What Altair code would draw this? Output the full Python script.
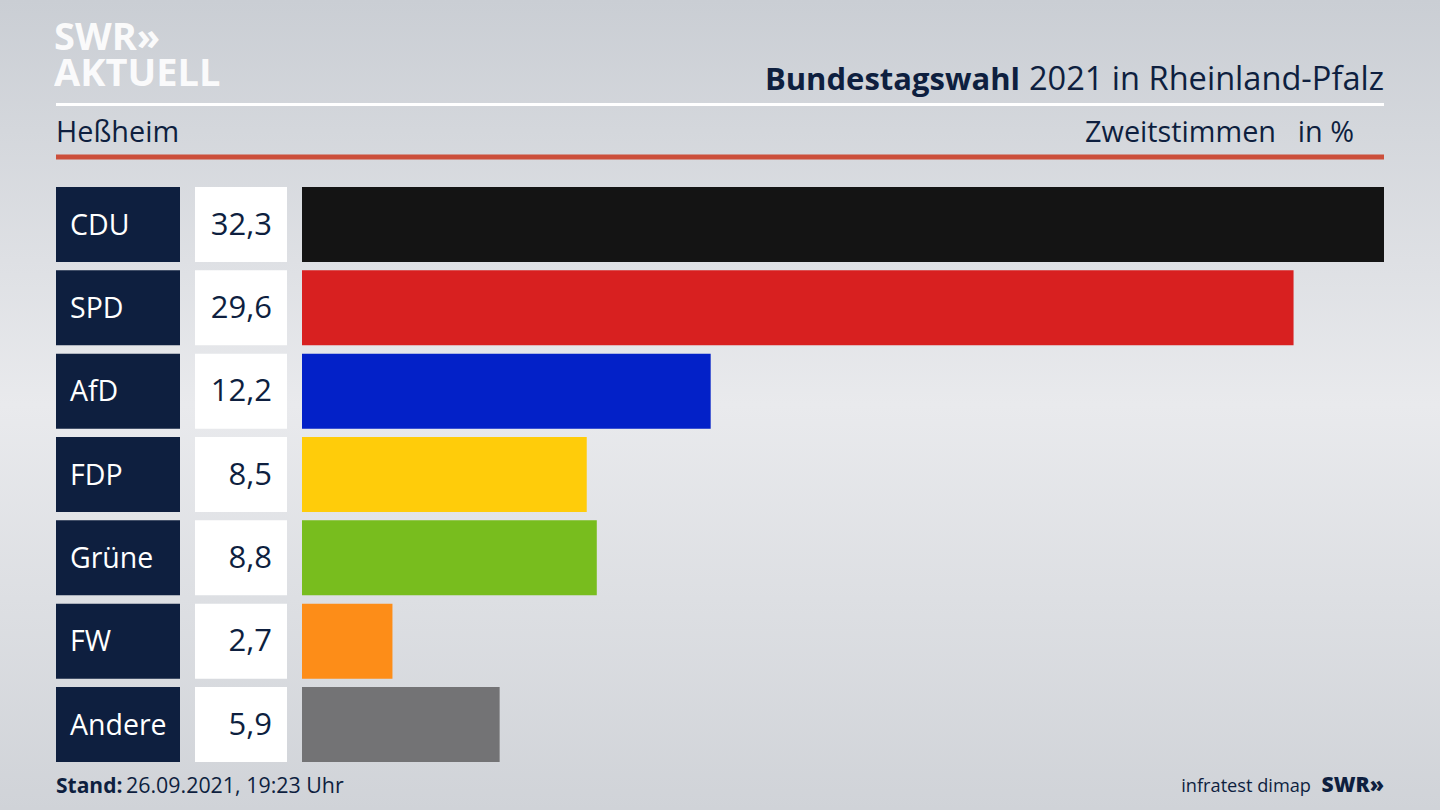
import altair as alt
import pandas as pd

parties = ["CDU", "SPD", "AfD", "FDP", "Grüne", "FW", "Andere"]
values = [32.3, 29.6, 12.2, 8.5, 8.8, 2.7, 5.9]
colors = ["#141414", "#d82020", "#0321c8", "#ffcc0a", "#78bd1e", "#fd8d18", "#737375"]

df = pd.DataFrame({
    "party": parties,
    "value": values,
    "color": colors,
    "label": [f"{v:.1f}".replace(".", ",") for v in values],
})

FONT = "Open Sans"
NAVY = "#0e1f3f"

yscale = alt.Scale(domain=parties, range=[187, 762], paddingInner=0.1, paddingOuter=0)
yenc = alt.Y("party:N", scale=yscale, axis=None)

base = alt.Chart(df)

bg = alt.Chart(pd.DataFrame({"a": [0]})).mark_rect(
    fill=alt.Gradient(
        gradient="linear", x1=0, y1=0, x2=0, y2=1,
        stops=[
            alt.GradientStop(offset=0, color="#caced4"),
            alt.GradientStop(offset=0.5, color="#e9eaed"),
            alt.GradientStop(offset=1, color="#d0d3d8"),
        ],
    )
).encode(x=alt.value(0), x2=alt.value(1440), y=alt.value(0), y2=alt.value(810))

name_box = base.mark_rect(color=NAVY).encode(
    x=alt.value(56), x2=alt.value(180), y=yenc
)
value_box = base.mark_rect(color="#ffffff").encode(
    x=alt.value(195), x2=alt.value(287), y=yenc
)
bars = base.mark_bar().encode(
    x=alt.X("value:Q", scale=alt.Scale(domain=[0, max(values)], range=[302, 1384]), axis=None),
    y=yenc,
    color=alt.Color("color:N", scale=None, legend=None),
)
name_text = base.mark_text(
    align="left", baseline="middle", font=FONT, fontSize=28.5, color="#ffffff", dy=1
).encode(x=alt.value(70), y=alt.Y("party:N", scale=yscale, axis=None, bandPosition=0.5), text="party:N")
value_text = base.mark_text(
    align="right", baseline="middle", font=FONT, fontSize=31, color=NAVY, dy=1
).encode(x=alt.value(272), y=alt.Y("party:N", scale=yscale, axis=None, bandPosition=0.5), text="label:N")

one = pd.DataFrame({"a": [0]})

def txt(s, x, y, size, align="left", weight="normal", color=NAVY, baseline="alphabetic", opacity=1, lineHeight=None):
    kw = {}
    if lineHeight is not None:
        kw["lineHeight"] = lineHeight
    return alt.Chart(one).mark_text(
        text=s, align=align, baseline=baseline, font=FONT, fontSize=size,
        fontWeight=weight, color=color, opacity=opacity, **kw,
    ).encode(x=alt.value(x), y=alt.value(y))

def hline(x1, x2, y, color, width):
    return alt.Chart(one).mark_rule(color=color, strokeWidth=width).encode(
        x=alt.value(x1), x2=alt.value(x2), y=alt.value(y)
    )

layers = [
    bg,
    txt(["SWR»", "AKTUELL"], 54, 50, 38, weight="bold", color="#ffffff", opacity=0.9, lineHeight=36),
    txt("Bundestagswahl", 1020, 90, 31, align="right", weight="bold"),
    txt("2021 in Rheinland-Pfalz", 1384, 90, 32.6, align="right"),
    hline(56, 1384, 104.5, "#ffffff", 3),
    txt("Heßheim", 56, 142, 28.8),
    txt("Zweitstimmen", 1276, 142, 28.8, align="right"),
    txt("in %", 1354, 142, 28.8, align="right"),
    hline(56, 1384, 157, "#cc4f3b", 5),
    name_box, value_box, bars, name_text, value_text,
    txt("Stand:", 56, 793, 21, weight="bold"),
    txt("26.09.2021, 19:23 Uhr", 126, 793, 21.4),
    txt("infratest dimap", 1311, 792, 18.2, align="right"),
    txt("SWR»", 1384, 792, 21, align="right", weight=800),
]

chart = alt.layer(*layers).properties(
    width=1440, height=810,
    autosize=alt.AutoSizeParams(type="none"),
    padding=0,
).configure_view(stroke=None).configure(background="#dfe1e4")

chart.save("out.html", embed_options={"renderer": "svg", "actions": False})
